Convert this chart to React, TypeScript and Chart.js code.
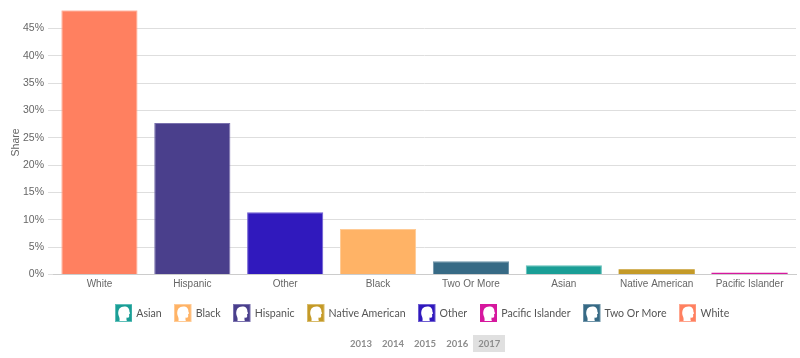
import React, { useEffect, useRef } from "react";
import { Chart, registerables } from "chart.js";

Chart.register(...registerables);

const categories = ["White", "Hispanic", "Other", "Black", "Two Or More", "Asian", "Native American", "Pacific Islander"];
const shares = [48.3, 27.7, 11.4, 8.3, 2.4, 1.7, 0.95, 0.3];
const barColors = ["#ff8060", "#4a3f8c", "#3019bd", "#ffb366", "#376a85", "#1a9e96", "#c49a28", "#d6189e"];
const borderColors = ["#ffa68f", "#7a71ae", "#6e5dd1", "#ffcb96", "#6d93a8", "#5fbfb9", "#d8bb6a", "#d6189e"];
const legendOrder = ["Asian", "Black", "Hispanic", "Native American", "Other", "Pacific Islander", "Two Or More", "White"];
const years = ["2013", "2014", "2015", "2016", "2017"];
const activeYear = "2017";
const yTickStep = 5;
const yMax = 48.3;

const UI_FONT = "Lato, 'Noto Sans', sans-serif";
const AXIS_FONT = "'Liberation Sans', Arial, sans-serif";

function Head({ color, border }: { color: string; border: string }) {
  return (
    <svg width="17.5" height="18" viewBox="0 0 18 18" preserveAspectRatio="none" style={{ display: "block", flex: "none" }}>
      <rect x="0.5" y="0.5" width="17" height="17" fill={color} stroke={border} />
      <path
        d="M4.6 17 C5 15 4.6 13.4 3.8 11.8 C2.9 10 3.1 6.6 4.6 4.6 C6.2 2.5 9.6 1.9 11.9 2.8 C14 3.6 14.9 5.6 14.8 7.4 L15.6 9.5 L14.5 10.1 L14.6 12.4 C14.4 13.6 13.2 13.8 12 13.6 C11.6 14.8 11.8 16 12.2 17 Z"
        fill="#ffffff"
      />
    </svg>
  );
}

export default function App() {
  const ref = useRef<HTMLCanvasElement | null>(null);

  useEffect(() => {
    if (!ref.current) return;
    const chart = new Chart(ref.current, {
      type: "bar",
      data: {
        labels: categories,
        datasets: [
          {
            data: shares,
            backgroundColor: barColors,
            borderColor: borderColors,
            borderWidth: (ctx: any) => (shares[ctx.dataIndex] < 1 ? 0 : 1),
            barPercentage: 0.82,
            categoryPercentage: 1,
          },
        ],
      },
      options: {
        animation: false,
        responsive: false,
        maintainAspectRatio: false,
        layout: { padding: { top: 2, right: 4, bottom: 0, left: 10 } },
        plugins: { legend: { display: false }, tooltip: { enabled: false }, title: { display: false } },
        scales: {
          x: {
            afterFit: (s: any) => { s.height = 83.5; },
            grid: { display: false, drawTicks: false },
            border: { color: "#cccccc", width: 1 },
            ticks: {
              color: "#666666",
              font: { family: AXIS_FONT, size: 10 },
              padding: 4,
              maxRotation: 0,
              autoSkip: false,
            },
          },
          y: {
            min: 0,
            max: yMax,
            afterFit: (s: any) => { s.width = 43; },
            afterBuildTicks: (s: any) => { s.ticks = s.ticks.filter((t: any) => t.value % yTickStep === 0); },
            title: {
              display: true,
              text: "Share",
              color: "#666666",
              font: { family: AXIS_FONT, size: 10.5 },
              padding: { top: 0, bottom: 0 },
            },
            grid: { color: "#dedede", lineWidth: 1, tickLength: 5, tickColor: "#dedede" },
            border: { display: false },
            ticks: {
              stepSize: yTickStep,
              color: "#666666",
              font: { family: AXIS_FONT, size: 10.5 },
              padding: 4,
              callback: (v: any) => `${v}%`,
            },
          },
        },
      },
    });
    return () => chart.destroy();
  }, []);

  return (
    <div style={{ position: "absolute", left: 0, top: 0, width: 800, height: 358, overflow: "hidden", background: "#fff" }}>
      <canvas ref={ref} width={800} height={358} style={{ display: "block", position: "absolute", left: 0, top: 0 }} />
      <div
        style={{
          position: "absolute", left: 0, top: 304, width: 844, height: 18,
          display: "flex", justifyContent: "center", alignItems: "center", gap: 12.5,
          fontFamily: UI_FONT, fontSize: 10.6, color: "#555",
        }}
      >
        {legendOrder.map((name) => {
          const i = categories.indexOf(name);
          return (
            <div key={name} style={{ display: "flex", alignItems: "center", gap: 4, whiteSpace: "nowrap" }}>
              <Head color={barColors[i]} border={borderColors[i]} />
              <span>{name}</span>
            </div>
          );
        })}
      </div>
      <div
        style={{
          position: "absolute", left: 345, top: 335, height: 17,
          display: "flex", alignItems: "center",
          fontFamily: UI_FONT, fontSize: 9.5, fontWeight: 700, color: "#8c8c8c",
        }}
      >
        {years.map((y) => (
          <div
            key={y}
            style={{
              padding: "0 5px", height: 17, lineHeight: "17px",
              background: y === activeYear ? "#e0e0e0" : "transparent",
            }}
          >
            {y}
          </div>
        ))}
      </div>
    </div>
  );
}
